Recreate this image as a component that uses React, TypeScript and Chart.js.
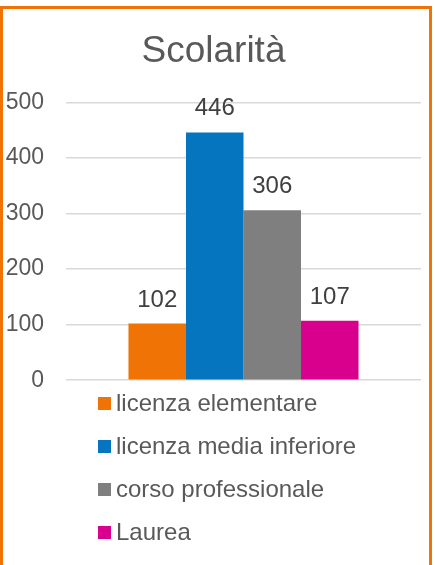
import React, { useEffect, useRef } from "react";
import { Chart, registerables } from "chart.js";

Chart.register(...registerables);

const title = "Scolarità";
const categories = [""];
const seriesNames = ["licenza elementare", "licenza media inferiore", "corso professionale", "Laurea"];
const seriesValues = [102, 446, 306, 107];
const seriesColors = ["#F07305", "#0675BF", "#7F7F7F", "#D9008D"];
const yTicks = [0, 100, 200, 300, 400, 500];

const FONT = "'Liberation Sans', Arial, sans-serif";

const valueLabels = {
  id: "valueLabels",
  afterDatasetsDraw(chart: any) {
    const ctx = chart.ctx;
    ctx.save();
    ctx.font = `24px ${FONT}`;
    ctx.fillStyle = "#404040";
    ctx.textAlign = "center";
    ctx.textBaseline = "alphabetic";
    chart.data.datasets.forEach((ds: any, i: number) => {
      const meta = chart.getDatasetMeta(i);
      meta.data.forEach((el: any, j: number) => {
        ctx.fillText(String(ds.data[j]), el.x, el.y - 17);
      });
    });
    ctx.restore();
  },
};

export default function App() {
  const ref = useRef<HTMLCanvasElement>(null);
  useEffect(() => {
    if (!ref.current) return;
    const chart = new Chart(ref.current, {
      type: "bar",
      data: {
        labels: categories,
        datasets: seriesNames.map((name, i) => ({
          label: name,
          data: [seriesValues[i]],
          backgroundColor: seriesColors[i],
          borderWidth: 0,
          categoryPercentage: 0.648,
          barPercentage: 1,
        })),
      },
      options: {
        responsive: false,
        animation: false,
        devicePixelRatio: 1,
        layout: { padding: { left: 3, right: 8, top: 0, bottom: 15 } },
        plugins: {
          legend: { display: false },
          tooltip: { enabled: false },
          title: {
            display: true,
            text: title,
            color: "#595959",
            font: { family: FONT, size: 37, weight: "normal" },
            padding: { top: 21, bottom: 28 },
          },
        },
        scales: {
          x: { display: false },
          y: {
            min: 0,
            max: 500,
            afterBuildTicks: (axis: any) => {
              axis.ticks = yTicks.map((v) => ({ value: v }));
            },
            afterFit: (axis: any) => {
              axis.width = 60;
            },
            border: { display: false },
            grid: { color: "#D9D9D9", lineWidth: 1.5, drawTicks: false },
            ticks: {
              color: "#595959",
              font: { family: FONT, size: 23 },
              padding: 22,
            },
          },
        },
      },
      plugins: [valueLabels],
    } as any);
    return () => chart.destroy();
  }, []);

  return (
    <div style={{ position: "fixed", left: 0, top: 6, width: 432, height: 620, boxSizing: "border-box", border: "3px solid #F07305", background: "#fff" }}>
      <div style={{ position: "relative", width: 426, height: 600 }}>
        <canvas ref={ref} width={426} height={407} style={{ position: "absolute", left: 0, top: 0 }} />
        <div style={{ position: "absolute", left: 95, top: 372.5 }}>
          {seriesNames.map((name, i) => (
            <div key={name} style={{ display: "flex", alignItems: "center", height: 43 }}>
              <div style={{ width: 13, height: 13, background: seriesColors[i], marginRight: 5 }} />
              <span style={{ font: `24px ${FONT}`, color: "#595959", lineHeight: 1 }}>{name}</span>
            </div>
          ))}
        </div>
      </div>
    </div>
  );
}
